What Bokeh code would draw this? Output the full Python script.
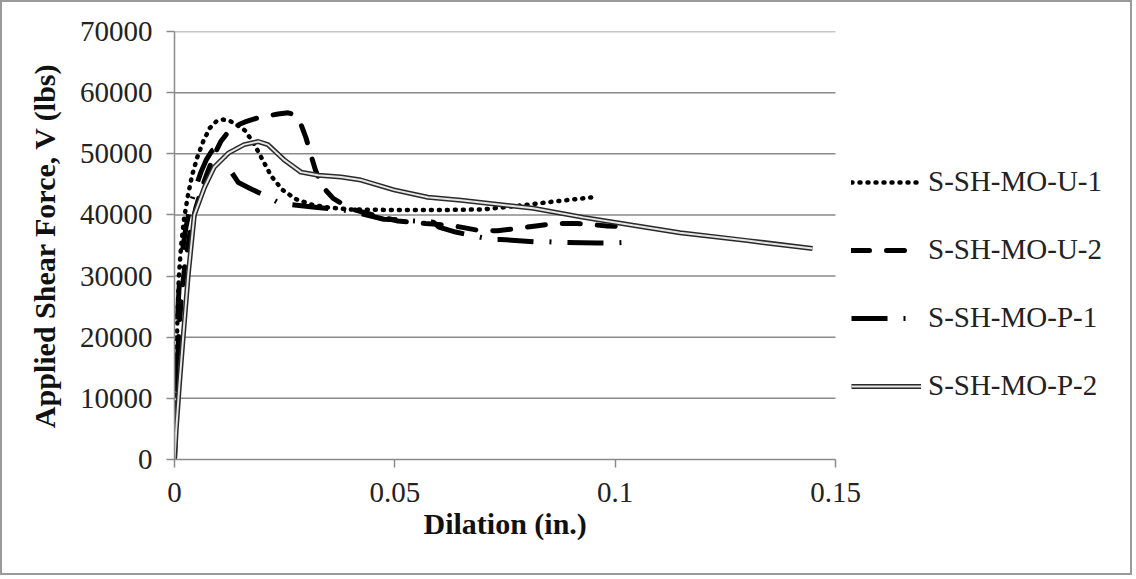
from bokeh.plotting import figure
from bokeh.models import Range1d, FixedTicker, Legend, LegendItem, Title
from bokeh.embed import file_html
from bokeh.resources import INLINE

# ---- data ----
u1_x = [0, 0.0002, 0.0004, 0.0007, 0.001, 0.0015, 0.0022, 0.003, 0.004, 0.0052, 0.0065, 0.008,
        0.0095, 0.011, 0.0125, 0.014, 0.016, 0.018, 0.0197, 0.022, 0.0245, 0.0275, 0.031, 0.035,
        0.04, 0.05, 0.06, 0.07, 0.078, 0.085, 0.09, 0.095]
u1_y = [0, 8000, 16000, 24000, 30000, 35000, 39500, 43000, 46500, 49500, 52000, 54200,
        55300, 55600, 55400, 54800, 53800, 51700, 49400, 46300, 44100, 42600, 41700, 41200,
        40900, 40800, 40800, 40900, 41500, 42100, 42500, 42900]

u2_x = [0, 0.0003, 0.0006, 0.001, 0.0016, 0.0024, 0.0035, 0.0048, 0.006, 0.0075, 0.009, 0.0105,
        0.0122, 0.014, 0.016, 0.0185, 0.021, 0.0235, 0.0258, 0.0272, 0.0285, 0.0298, 0.031,
        0.032, 0.0335, 0.036, 0.04, 0.045, 0.0507, 0.057, 0.0627, 0.0688, 0.0733, 0.0778,
        0.082, 0.0869, 0.0914, 0.0982, 0.101]
u2_y = [0, 8000, 15000, 21000, 27000, 32000, 37000, 41000, 44000, 47000, 49800, 52000,
        53600, 54600, 55200, 55800, 56200, 56500, 56700, 56400, 55200, 52700, 49700,
        47300, 44700, 42700, 41000, 40000, 39000, 38600, 38300, 37500, 37400, 37800,
        38200, 38600, 38600, 38200, 38100]

p1_x = [0, 0.0002, 0.0005, 0.0008, 0.0012, 0.0018, 0.0026, 0.0036, 0.0048, 0.006, 0.0072, 0.0085,
        0.0097, 0.0108, 0.012, 0.0145, 0.0175, 0.0213, 0.0234, 0.0263, 0.0324, 0.0377, 0.0425,
        0.0475, 0.0506, 0.0588, 0.060, 0.0638, 0.0717, 0.074, 0.082, 0.085, 0.088, 0.096,
        0.0991, 0.1046]
p1_y = [0, 9000, 18000, 25000, 30000, 34000, 38000, 41500, 44500, 47000, 49000, 50500,
        51000, 50000, 48000, 45300, 44200, 42900, 42100, 41700, 41200, 40900, 40200,
        39300, 39200, 38800, 38000, 37200, 36000, 36000, 35600, 35600, 35500, 35400,
        35400, 35600]

p2_x = [0, 0.0004, 0.0011, 0.002, 0.0031, 0.0045, 0.0068, 0.009, 0.0122, 0.0158, 0.019, 0.0212,
        0.0249, 0.0287, 0.0326, 0.0378, 0.0423, 0.0498, 0.0575, 0.065, 0.0814, 0.0928, 0.104,
        0.1147, 0.130, 0.1448]
p2_y = [0, 5000, 12100, 20300, 30100, 40000, 44500, 47800, 50100, 51500, 52000, 51500,
        49000, 47000, 46500, 46200, 45700, 44100, 42900, 42400, 41100, 39600, 38300,
        37100, 35800, 34500]

series_names = ["S-SH-MO-U-1", "S-SH-MO-U-2", "S-SH-MO-P-1", "S-SH-MO-P-2"]
x_title = "Dilation (in.)"
y_title = "Applied Shear Force, V (lbs)"
x_ticks = [0, 0.05, 0.1, 0.15]
x_tick_labels = ["0", "0.05", "0.1", "0.15"]
y_ticks = [0, 10000, 20000, 30000, 40000, 50000, 60000, 70000]
y_tick_labels = [str(v) for v in y_ticks]
X_MIN, X_MAX = 0, 0.15
Y_MIN, Y_MAX = 0, 70000

FONT = "Liberation Serif"
GRID = "#8a8a8a"

# geometry: the axis area spans 661 px for 0..0.15; frame is widened to hold the legend
W, H = 1132, 575
LEFT, RIGHT, TOP, BOTTOM = 172, 0, 29, 118
AXIS_PX = 661
frame_w = W - LEFT - RIGHT
x_end = X_MAX * frame_w / AXIS_PX

p = figure(width=W, height=H, output_backend="svg", toolbar_location=None,
           x_range=Range1d(X_MIN, x_end), y_range=Range1d(Y_MIN, Y_MAX),
           min_border_left=LEFT, min_border_right=RIGHT, min_border_top=TOP, min_border_bottom=BOTTOM)
p.styles = {"border": "2px solid #9a9a9a"}
p.outline_line_color = None
p.background_fill_color = "white"
p.border_fill_color = "white"

p.xgrid.visible = False
p.ygrid.visible = False
grid_ticks = y_ticks[1:]
p.segment(x0=[X_MIN] * len(grid_ticks), x1=[X_MAX] * len(grid_ticks), y0=grid_ticks, y1=grid_ticks,
          line_color=GRID, line_width=1.5)

p.xaxis.ticker = FixedTicker(ticks=x_ticks)
p.xaxis.major_label_overrides = {t: l for t, l in zip(x_ticks, x_tick_labels)}
p.xaxis.bounds = (X_MIN, X_MAX)
p.yaxis.ticker = FixedTicker(ticks=y_ticks)
p.yaxis.major_label_overrides = {t: l for t, l in zip(y_ticks, y_tick_labels)}

for ax in (p.xaxis[0], p.yaxis[0]):
    ax.axis_line_color = GRID
    ax.axis_line_width = 1.5
    ax.major_tick_line_color = GRID
    ax.major_tick_line_width = 1.5
    ax.major_tick_out = 8
    ax.major_tick_in = 0
    ax.minor_tick_line_color = None
    ax.major_label_text_font = FONT
    ax.major_label_text_font_size = "29px"
    ax.major_label_text_color = "#222222"
    ax.axis_label_text_font = FONT
    ax.axis_label_text_font_style = "bold"
    ax.axis_label_text_font_size = "30px"
    ax.axis_label_text_color = "#111111"

p.yaxis.axis_label = y_title
p.xaxis.major_label_standoff = 15
p.yaxis.major_label_standoff = 14
p.yaxis.axis_label_standoff = 16

# x-axis title centred under the 0..0.15 span (frame is wider because of the legend)
xt = Title(text=x_title, align="left", offset=249, standoff=0,
           text_font=FONT, text_font_style="bold", text_font_size="30px", text_color="#111111")
p.add_layout(xt, "below")

r1 = p.line(u1_x, u1_y, line_color="black", line_width=4.5, line_dash="1 7", line_cap="round")
r2 = p.line(u2_x, u2_y, line_color="black", line_width=5, line_dash="18 17", line_cap="round")
r3 = p.line(p1_x, p1_y, line_color="black", line_width=5, line_dash="36 16 2 16")
r4a = p.line(p2_x, p2_y, line_color="#2a2a2a", line_width=5)
r4b = p.line(p2_x, p2_y, line_color="#e6e6e6", line_width=2)

legend = Legend(items=[
    LegendItem(label=series_names[0], renderers=[r1]),
    LegendItem(label=series_names[1], renderers=[r2]),
    LegendItem(label=series_names[2], renderers=[r3]),
    LegendItem(label=series_names[3], renderers=[r4a, r4b]),
], location=(677, 57))
legend.glyph_width = 70
legend.glyph_height = 30
legend.label_height = 30
legend.spacing = 35
legend.padding = 0
legend.margin = 0
legend.label_standoff = 7
legend.border_line_color = None
legend.background_fill_alpha = 0
legend.label_text_font = FONT
legend.label_text_font_size = "29px"
legend.label_text_color = "#222222"
p.add_layout(legend)

open("out.html", "w").write(file_html(p, INLINE))
